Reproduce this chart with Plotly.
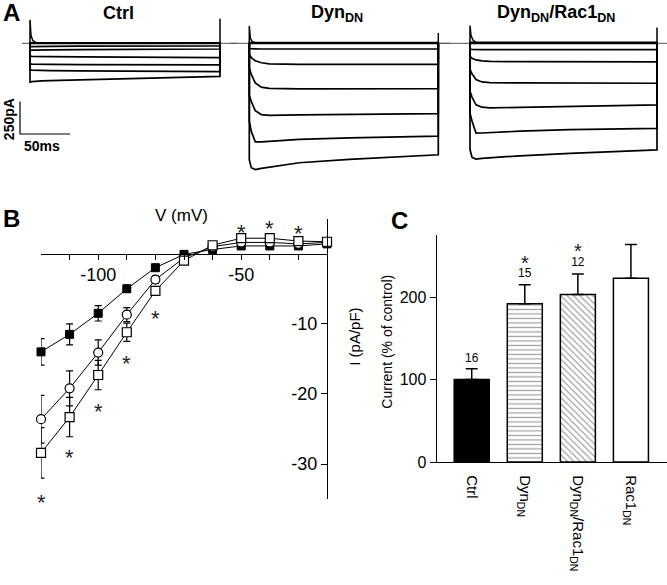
import plotly.graph_objects as go

W, H = 667, 585
FONT = "Arial, Liberation Sans, sans-serif"

# ---------------- Panel A : current traces (ms, pA) ----------------
T_CTRL = [0, 2, 6, 12, 20, 50, 100, 150, 190]
T_DYN = [0, 2, 6, 12, 20, 50, 100, 150, 189]
T_RAC = [0, 2, 6, 12, 20, 50, 100, 150, 187]

CTRL_TRACES = [
    [4, 4, 4, 4, 4, 4, 4, 4, 4],
    [0, 0, 0, 0, 0, 0, 0, 0, 0],
    [-26, -26, -25, -24, -23, -22, -21, -20, -20],
    [-53, -53, -52, -51, -50, -48, -46, -45, -44],
    [-99, -100, -101, -102, -103, -105, -107, -109, -110],
    [-160, -161, -162, -163, -163, -165, -166, -167, -167],
    [-205, -207, -209, -210, -211, -213, -215, -217, -218],
    [-300, -296, -292, -290, -288, -282, -272, -262, -255],
]
DYN_TRACES = [
    [6, 6, 6, 6, 6, 6, 6, 6, 6],
    [0, 0, 0, 0, 0, 0, 0, 0, 0],
    [-40, -42, -44, -44, -44, -44, -44, -44, -44],
    [-85, -110, -135, -150, -158, -162, -163, -163, -163],
    [-190, -240, -305, -338, -348, -352, -352, -351, -350],
    [-400, -450, -520, -550, -556, -553, -549, -546, -543],
    [-600, -680, -760, -760, -755, -742, -730, -722, -716],
    [-900, -960, -974, -965, -955, -922, -895, -875, -860],
]
RAC_TRACES = [
    [8, 8, 8, 8, 8, 8, 8, 8, 8],
    [0, 0, 0, 0, 0, 0, 0, 0, 0],
    [-45, -47, -49, -49, -49, -49, -49, -49, -49],
    [-100, -115, -128, -136, -140, -142, -143, -143, -143],
    [-200, -235, -280, -298, -303, -306, -307, -308, -308],
    [-370, -415, -475, -493, -498, -494, -486, -480, -475],
    [-540, -600, -693, -692, -688, -678, -666, -660, -657],
    [-820, -880, -893, -888, -883, -868, -850, -835, -822],
]
SPIKE_T = [0, 0, 1, 3, 6]
CTRL_SPIKE = [0, 182, 60, 20, 5]
DYN_SPIKE = [0, 133, 40, 12, 4]
RAC_SPIKE = [0, 137, 60, 25, 8]
TAIL_SPIKE = {"ctrl": 190, "dyn": 80, "rac": 122}
BASELINE_T = {"ctrl": [-8, 207], "dyn": [-19, 201], "rac": [-30, 197]}
SCALE_T = [-10, -10, 40]
SCALE_I = [-450, -700, -700]

# ---------------- Panel B : I-V curves ----------------
V_MV = [-120, -110, -100, -90, -80, -70, -60, -50, -40, -30, -20]
IV_CTRL = [-14.0, -11.5, -8.5, -5.0, -2.0, -0.1, 0.6, 1.1, 1.1, 1.1, 1.4]
IV_CTRL_ERR = [1.9, 1.5, 1.1, 0.5, 0.3, 0.2, 0.2, 0.2, 0.2, 0.2, 0.2]
IV_DYN = [-28.4, -23.3, -17.3, -11.2, -5.3, -1.0, 1.2, 2.2, 2.2, 1.8, 1.7]
IV_DYN_ERR = [3.6, 2.8, 2.1, 1.3, 0.6, 0.3, 0.3, 0.3, 0.3, 0.3, 0.3]
IV_RAC = [-23.6, -19.2, -14.1, -8.7, -3.7, -0.6, 1.0, 1.6, 1.6, 1.4, 1.6]
IV_RAC_ERR = [3.4, 2.5, 1.8, 1.0, 0.5, 0.3, 0.3, 0.3, 0.3, 0.3, 0.3]
AST_B_V = [-120, -110, -100, -90, -80, -50, -40, -30]
AST_B_I = [-34.7, -28.4, -21.8, -15.0, -8.5, 3.7, 4.3, 3.6]
XTICK_B = [-100, -50]
XTICK_B_TEXT = ["-100", "-50"]
XMINOR_B = [-110, -90, -80, -70, -60, -40, -30]
YTICK_B = [-30, -20, -10]
YTICK_B_TEXT = ["-30", "-20", "-10"]

# ---------------- Panel C : bar chart ----------------
GROUPS = ["Ctrl", "Dyn<sub>DN</sub>", "Dyn<sub>DN</sub>/Rac1<sub>DN</sub>", "Rac1<sub>DN</sub>"]
CURRENT = [100, 191.8, 203, 222.7]
CURRENT_ERR = [13, 23, 25, 41]
N_CELLS = ["16", "15", "12"]
N_CELLS_Y = [125.3, 228.3, 240.8]
SIG_X = [1, 2]
SIG_Y = [246, 260.5]


def px(x):
    return x / W


def py(y):
    return 1 - y / H


fig = go.Figure()

# ---- Panel A traces
panels = [
    ("x", "y", T_CTRL, CTRL_TRACES, CTRL_SPIKE, "ctrl"),
    ("x2", "y2", T_DYN, DYN_TRACES, DYN_SPIKE, "dyn"),
    ("x3", "y3", T_RAC, RAC_TRACES, RAC_SPIKE, "rac"),
]
for xa, ya, T, traces, spike, key in panels:
    fig.add_trace(go.Scatter(x=BASELINE_T[key], y=[0, 0], xaxis=xa, yaxis=ya, mode="lines",
                             line=dict(color="#555", width=1), hoverinfo="skip"))
    for vals in traces:
        fig.add_trace(go.Scatter(x=[0] + T + [T[-1]], y=[0] + vals + [0], xaxis=xa, yaxis=ya,
                                 mode="lines", line=dict(color="black", width=1.7), hoverinfo="skip"))
    fig.add_trace(go.Scatter(x=SPIKE_T, y=spike, xaxis=xa, yaxis=ya, mode="lines",
                             line=dict(color="black", width=1.5), hoverinfo="skip"))
    fig.add_trace(go.Scatter(x=[T[-1], T[-1]], y=[0, TAIL_SPIKE[key]], xaxis=xa, yaxis=ya, mode="lines",
                             line=dict(color="black", width=1.5), hoverinfo="skip"))

fig.add_trace(go.Scatter(x=SCALE_T, y=SCALE_I, xaxis="x", yaxis="y", mode="lines",
                         line=dict(color="black", width=1.2), hoverinfo="skip"))

# ---- Panel B
err = lambda arr: dict(type="data", array=arr, visible=True, thickness=1.2, width=3.5, color="black")
fig.add_trace(go.Scatter(x=V_MV, y=IV_CTRL, xaxis="x4", yaxis="y4", mode="lines+markers",
                         error_y=err(IV_CTRL_ERR), line=dict(color="black", width=1),
                         marker=dict(symbol="square", size=8, color="black", line=dict(color="black", width=1)),
                         cliponaxis=False))
fig.add_trace(go.Scatter(x=V_MV, y=IV_RAC, xaxis="x4", yaxis="y4", mode="lines+markers",
                         error_y=err(IV_RAC_ERR), line=dict(color="black", width=1),
                         marker=dict(symbol="circle", size=9, color="white", line=dict(color="black", width=1.2)),
                         cliponaxis=False))
fig.add_trace(go.Scatter(x=V_MV, y=IV_DYN, xaxis="x4", yaxis="y4", mode="lines+markers",
                         error_y=err(IV_DYN_ERR), line=dict(color="black", width=1),
                         marker=dict(symbol="square", size=9, color="white", line=dict(color="black", width=1.2)),
                         cliponaxis=False))

# ---- Panel C
XC = list(range(len(GROUPS)))
fig.add_trace(go.Bar(x=XC, y=CURRENT, xaxis="x5", yaxis="y5", width=0.66,
                     marker=dict(color=["black", "white", "white", "white"],
                                 line=dict(color="black", width=1.5),
                                 pattern=dict(shape=["", "-", "\\", ""], fgcolor="#666",
                                              size=4.5, solidity=0.28, fillmode="overlay")),
                     error_y=dict(type="data", array=CURRENT_ERR, arrayminus=[0] * 4, visible=True,
                                  thickness=1.5, width=6, color="black")))
fig.add_trace(go.Scatter(x=XC[:3], y=N_CELLS_Y, xaxis="x5", yaxis="y5", mode="text", text=N_CELLS,
                         textfont=dict(family=FONT, size=12, color="black"), cliponaxis=False, hoverinfo="skip"))

# ---- axes
hidden = dict(visible=False, showgrid=False, zeroline=False, fixedrange=True)
a_ydom = [py(175), py(15)]
a_yrange = [-(175 - 44) * 7.6, (44 - 15) * 7.6]

b_xdom = [px(41), px(327)]
b_ydom = [py(507), py(222)]
b_yrange = [-35, 5]
b_xpos = b_ydom[0] + (b_ydom[1] - b_ydom[0]) * (0 - b_yrange[0]) / (b_yrange[1] - b_yrange[0])

C_PX_PER_UNIT = 0.838
c_ydom = [py(469.3), py(469.3 - 275 * C_PX_PER_UNIT)]

fig.update_layout(
    width=W, height=H, margin=dict(l=0, r=0, t=0, b=0),
    paper_bgcolor="white", plot_bgcolor="rgba(0,0,0,0)", showlegend=False,
    font=dict(family=FONT, color="black"),
    xaxis=dict(domain=[px(5), px(240)], range=[-25, 210], anchor="y", **hidden),
    yaxis=dict(domain=a_ydom, range=a_yrange, anchor="x", **hidden),
    xaxis2=dict(domain=[px(228), px(452)], range=[-21.3, 202.7], anchor="y2", **hidden),
    yaxis2=dict(domain=a_ydom, range=a_yrange, anchor="x2", **hidden),
    xaxis3=dict(domain=[px(440), 1.0], range=[-30, 197], anchor="y3", **hidden),
    yaxis3=dict(domain=a_ydom, range=a_yrange, anchor="x3", **hidden),
    xaxis4=dict(domain=b_xdom, range=[-120, -20], anchor="free", position=b_xpos,
                showline=True, linecolor="black", linewidth=1.2, showgrid=False, zeroline=False,
                ticks="outside", ticklen=5, tickwidth=1.1, tickcolor="black",
                tickvals=XTICK_B, ticktext=XTICK_B_TEXT, tickfont=dict(size=18, family=FONT),
                minor=dict(tickvals=XMINOR_B, ticks="outside", ticklen=5, tickwidth=1.1,
                           tickcolor="black", showgrid=False)),
    yaxis4=dict(domain=b_ydom, range=b_yrange, anchor="free", position=b_xdom[1], side="left",
                showline=True, linecolor="black", linewidth=1.2, showgrid=False, zeroline=False,
                ticks="outside", ticklen=6, tickwidth=1.1, tickcolor="black",
                tickvals=YTICK_B, ticktext=YTICK_B_TEXT, tickfont=dict(size=18, family=FONT)),
    xaxis5=dict(domain=[px(436.7), 1.0], range=[-0.66, 3.68], anchor="y5",
                showline=True, linecolor="black", linewidth=1.2, showgrid=False, zeroline=False,
                ticks="", tickvals=XC, ticktext=GROUPS, tickangle=90, ticklabelstandoff=9,
                tickfont=dict(size=15, family=FONT)),
    yaxis5=dict(domain=c_ydom, range=[0, 275], anchor="x5",
                showline=True, linecolor="black", linewidth=1.2, showgrid=False, zeroline=False,
                ticks="outside", ticklen=6, tickwidth=1.1, tickcolor="black",
                tickvals=[0, 100, 200], tickfont=dict(size=16, family=FONT)),
)

ann = []


def add_text(text, x, y, size, bold=False, angle=0):
    t = f"<b>{text}</b>" if bold else text
    ann.append(dict(text=t, x=px(x), y=py(y), xref="paper", yref="paper", showarrow=False,
                    xanchor="center", yanchor="middle", textangle=angle,
                    font=dict(family=FONT, size=size, color="black")))


add_text("A", 11, 13, 24, bold=True)
add_text("B", 11, 222, 24, bold=True)
add_text("C", 399, 224, 24, bold=True)
add_text("Ctrl", 118, 13, 18, bold=True)
add_text("Dyn<sub>DN</sub>", 337, 14, 18, bold=True)
add_text("Dyn<sub>DN</sub>/Rac1<sub>DN</sub>", 556, 14, 18, bold=True)
add_text("250pA", 9, 121, 14, bold=True, angle=-90)
add_text("50ms", 42, 148, 14, bold=True)
add_text("V (mV)", 181, 219, 17)
add_text("I (pA/pF)", 355, 342, 15, angle=-90)
add_text("Current (% of control)", 387, 347, 14, angle=-90)

# significance asterisks (anchored in data coordinates, glyph re-centred with yshift)
for v, i in zip(AST_B_V, AST_B_I):
    ann.append(dict(text="*", x=v, y=i, xref="x4", yref="y4", showarrow=False, yshift=-5,
                    font=dict(family=FONT, size=22, color="#222")))
for xc, yc in zip(SIG_X, SIG_Y):
    ann.append(dict(text="*", x=xc, y=yc, xref="x5", yref="y5", showarrow=False, yshift=-4,
                    font=dict(family=FONT, size=20, color="#222")))
fig.update_layout(annotations=ann)

fig.write_html("out.html", config={"displayModeBar": False},
               post_script="document.body.style.margin='0';document.body.style.overflow='hidden';")
